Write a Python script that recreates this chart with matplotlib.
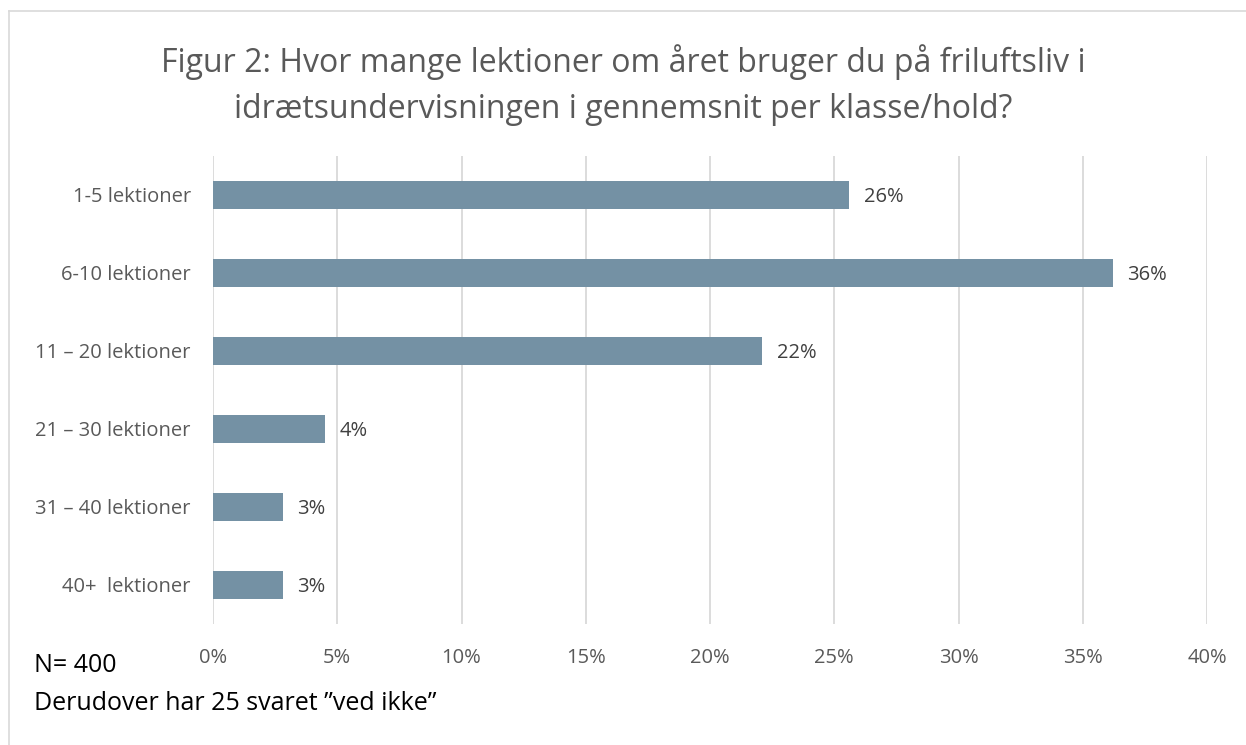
import matplotlib.pyplot as plt
from matplotlib.lines import Line2D

# data
kategorier = ["1-5 lektioner", "6-10 lektioner", "11 – 20 lektioner",
              "21 – 30 lektioner", "31 – 40 lektioner", "40+  lektioner"]
andele = [25.6, 36.2, 22.1, 4.5, 2.8, 2.8]
etiketter = ["26%", "36%", "22%", "4%", "3%", "3%"]
x_ticks = [0, 5, 10, 15, 20, 25, 30, 35, 40]

titel = ("Figur 2: Hvor mange lektioner om året bruger du på friluftsliv i\n"
         "idrætsundervisningen i gennemsnit per klasse/hold?")

plt.rcParams['font.family'] = ['Open Sans', 'DejaVu Sans']

fig = plt.figure(figsize=(12.46, 7.45), dpi=100)
ax = fig.add_axes([213 / 1246, 1 - 624 / 745, 994 / 1246, 468 / 745])

pos = list(range(len(kategorier)))
ax.barh(pos, andele, height=0.36, color="#7491A4", zorder=3)
for p, v, t in zip(pos, andele, etiketter):
    ax.text(v + 0.6, p, t, va="center_baseline", ha="left", fontsize=14.5, color="#404040")

ax.set_xlim(0, 40)
ax.set_ylim(len(kategorier) - 0.5, -0.5)
ax.set_yticks(pos)
ax.set_yticklabels(kategorier, fontsize=14.5, color="#595959", va="center_baseline")
ax.set_xticks(x_ticks)
ax.set_xticklabels([f"{x}%" for x in x_ticks], fontsize=14.5, color="#595959")
ax.tick_params(axis="both", length=0)
ax.tick_params(axis="x", pad=17)
ax.tick_params(axis="y", pad=16)
ax.grid(axis="x", color="#D9D9D9", linewidth=1.3, zorder=0)
for s in ax.spines.values():
    s.set_visible(False)

fig.text(0.5, 1 - 85 / 745, titel, ha="center", va="center", fontsize=23,
         color="#595959", linespacing=1.5)

fig.text(34 / 1246, 1 - 662 / 745, "N= 400", fontsize=18, va="center_baseline", color="black")
fig.text(34 / 1246, 1 - 701 / 745, "Derudover har 25 svaret \u201dved ikke\u201d",
         fontsize=18, va="center_baseline", color="black")

# ramme
fig.add_artist(Line2D([9 / 1246, 9 / 1246], [0, 1 - 11 / 745], transform=fig.transFigure,
                      color="#D9D9D9", linewidth=1.2))
fig.add_artist(Line2D([9 / 1246, 1], [1 - 11 / 745, 1 - 11 / 745], transform=fig.transFigure,
                      color="#D9D9D9", linewidth=1.2))

fig.savefig("out.png", dpi=100)
